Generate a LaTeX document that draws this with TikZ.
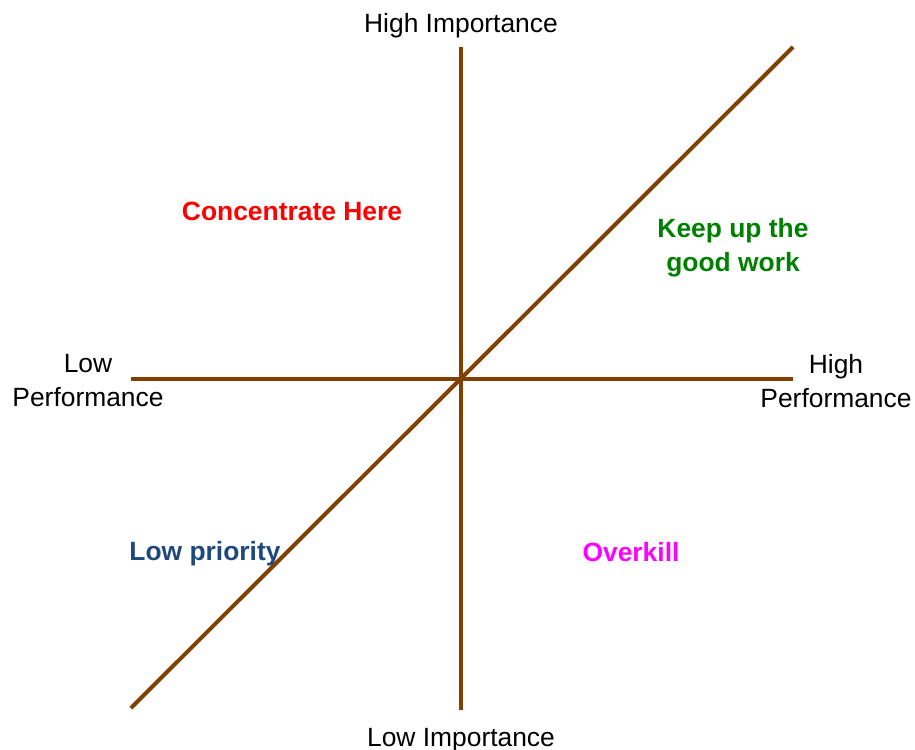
\documentclass[tikz,border=0pt]{standalone}
\usepackage{xcolor}
\usepackage{fontspec}
\setmainfont{Liberation Sans}
\usepackage{tikz}
\usetikzlibrary{positioning}

\definecolor{axisbrown}{RGB}{128,64,0}
\definecolor{lowblue}{RGB}{31,73,125}
\definecolor{keepgreen}{RGB}{0,128,0}
\definecolor{overpink}{RGB}{255,0,255}

\begin{document}
\begin{tikzpicture}[x=0.75pt,y=-0.75pt,axis line/.style={draw=axisbrown,line width=3pt},end label/.style={align=center,font=\fontsize{19.8}{25.5}\selectfont,inner sep=0pt},zone label/.style={align=center,font=\fontsize{19.8}{25.5}\selectfont\bfseries,inner sep=0pt}]
    \useasboundingbox (0,0) rectangle (915,750);
    \coordinate (top) at (461,47);
    \coordinate (bottom) at (461,710);
    \coordinate (left) at (131,379);
    \coordinate (right) at (793,379);
    \coordinate (ne) at (793,47);
    \coordinate (sw) at (131,708);
    \draw[axis line] (top) -- (bottom);
    \draw[axis line] (left) -- (right);
    \draw[axis line] (sw) -- (ne);
    \node[end label] (hi) at (461,26) {High Importance};
    \node[end label] (li) at (461,740) {Low Importance};
    \node[end label] (lp) at (88,381) {Low\\Performance};
    \node[end label] (hp) at (836,381) {High\\Performance};
    \node[zone label,text=red] (conc) at (292,211) {Concentrate Here};
    \node[zone label,text=keepgreen] (keep) at (733,248) {Keep up the\\good work};
    \node[zone label,text=lowblue] (lowpr) at (205,554) {Low priority};
    \node[zone label,text=overpink] (over) at (631,552) {Overkill};
\end{tikzpicture}
\end{document}
